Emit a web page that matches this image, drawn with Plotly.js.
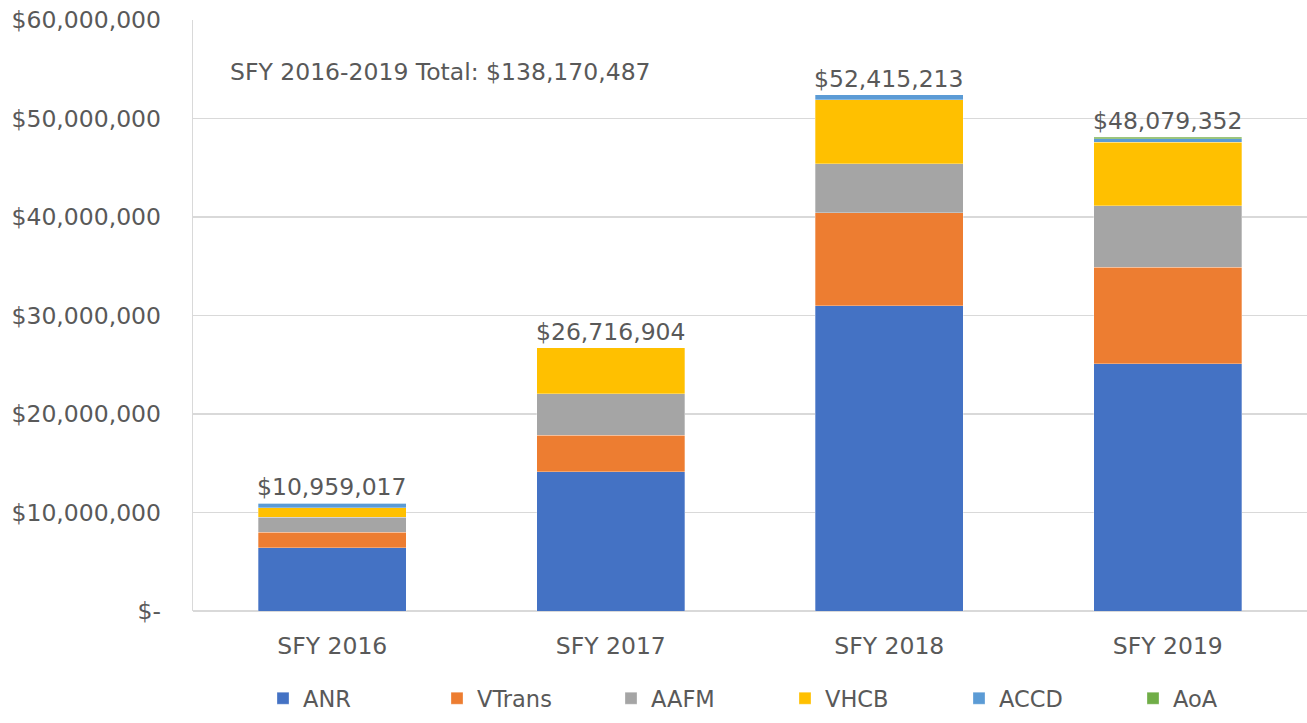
<!DOCTYPE html>
<html>
<head>
<meta charset="utf-8">
<script src="https://cdn.plot.ly/plotly-3.0.1.min.js"></script>
<style>html,body{margin:0;padding:0;background:#fff;}#chart{width:1307px;height:723px;}</style>
</head>
<body>
<div id="chart"></div>
<script>
const categories = ["SFY 2016", "SFY 2017", "SFY 2018", "SFY 2019"];
const seriesNames = ["ANR", "VTrans", "AAFM", "VHCB", "ACCD", "AoA"];
const ANR    = [6430000, 14140000, 31000000, 25080000];
const VTrans = [1560000, 3700000, 9410000, 9810000];
const AAFM   = [1550000, 4220000, 5000000, 6260000];
const VHCB   = [950000, 4656904, 6500000, 6460000];
const ACCD   = [469017, 0, 505213, 340000];
const AoA    = [0, 0, 0, 129352];
const totalLabels = ["$10,959,017", "$26,716,904", "$52,415,213", "$48,079,352"];
const grandTotalLabel = "SFY 2016-2019 Total: $138,170,487";
const yTickVals = [0, 10000000, 20000000, 30000000, 40000000, 50000000, 60000000];
const yTickText = ["$-", "$10,000,000", "$20,000,000", "$30,000,000", "$40,000,000", "$50,000,000", "$60,000,000"];

const colors = ["#4472C4", "#ED7D31", "#A5A5A5", "#FFC000", "#5B9BD5", "#70AD47"];
const seriesData = [ANR, VTrans, AAFM, VHCB, ACCD, AoA];
const font = "DejaVu Sans, Arial, sans-serif";
const txtColor = "#595959";
const fs = 23.5;

const traces = seriesData.map((vals, i) => ({
  type: "bar",
  name: seriesNames[i],
  x: categories,
  y: vals,
  marker: {color: colors[i], line: {color: "rgba(255,255,255,0.6)", width: 0.5}},
  hoverinfo: "none"
}));

const totals = categories.map((c, j) => seriesData.reduce((s, arr) => s + arr[j], 0));
const annotations = categories.map((c, j) => ({
  x: c, y: totals[j], xref: "x", yref: "y",
  text: totalLabels[j], showarrow: false, yanchor: "bottom", yshift: 0,
  font: {family: font, size: fs, color: txtColor}
}));
annotations.push({
  xref: "paper", yref: "paper", x: 0.031, y: 0.912, xanchor: "left", yanchor: "middle",
  text: grandTotalLabel, showarrow: false,
  font: {family: font, size: fs, color: txtColor}
});

const layout = {
  width: 1307, height: 723,
  margin: {l: 193, r: 0, t: 20, b: 112},
  paper_bgcolor: "#fff", plot_bgcolor: "#fff",
  barmode: "stack", bargap: 0.47,
  showlegend: true,
  legend: {
    orientation: "h", xref: "paper", x: 0.535, xanchor: "center",
    yref: "container", y: 0.004, yanchor: "bottom",
    font: {family: font, size: 22.5, color: txtColor},
    entrywidth: 129, entrywidthmode: "pixels", traceorder: "normal",
    itemclick: false
  },
  xaxis: {
    showgrid: false, showline: false, zeroline: false, ticks: "",
    ticklabelstandoff: 18, automargin: false,
    tickfont: {family: font, size: fs, color: txtColor}
  },
  yaxis: {
    range: [0, 60000000], tickvals: yTickVals, ticktext: yTickText,
    showgrid: true, gridcolor: "#D9D9D9", gridwidth: 1.3,
    zeroline: true, zerolinecolor: "#D9D9D9", zerolinewidth: 1.3,
    showline: true, linecolor: "#D9D9D9", linewidth: 1.3,
    ticks: "", ticklabelstandoff: 26, automargin: false,
    tickfont: {family: font, size: fs, color: txtColor}
  },
  annotations: annotations
};

Plotly.newPlot("chart", traces, layout, {staticPlot: true, displayModeBar: false});
</script>
</body>
</html>
